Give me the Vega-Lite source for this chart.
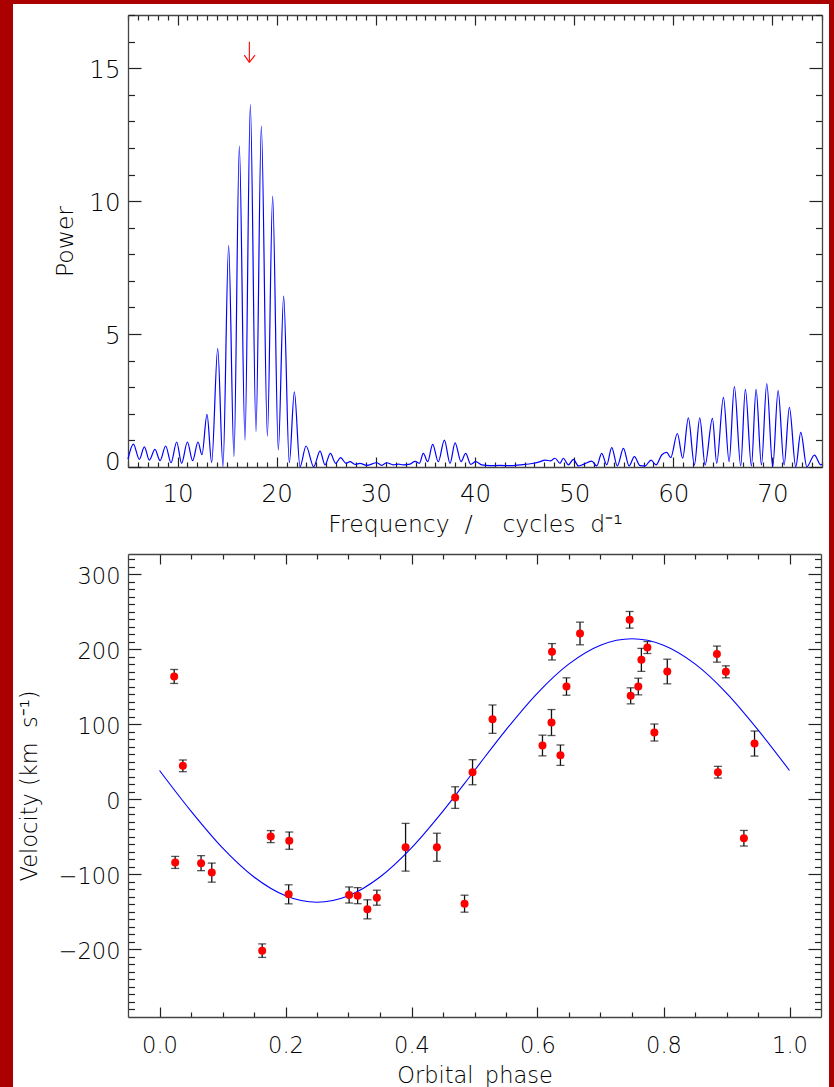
{
  "$schema": "https://vega.github.io/schema/vega-lite/v6.json",
  "background": "white",
  "padding": 0,
  "autosize": {"type": "pad"},
  "columns": 4,
  "spacing": {"row": 0, "column": 0},
  "bounds": "flush",
  "datasets": {
    "pgram": [
      {"f": 5.0, "P": 0.30}, {"f": 5.54, "P": 0.86}, {"f": 6.14, "P": 0.29}, {"f": 6.65, "P": 0.76},
      {"f": 7.15, "P": 0.26}, {"f": 7.72, "P": 0.66}, {"f": 8.23, "P": 0.24}, {"f": 8.80, "P": 0.79},
      {"f": 9.34, "P": 0.16}, {"f": 9.91, "P": 0.94}, {"f": 10.41, "P": 0.14}, {"f": 10.99, "P": 0.94},
      {"f": 11.52, "P": 0.24}, {"f": 12.06, "P": 0.94}, {"f": 12.46, "P": 0.46}, {"f": 12.97, "P": 1.98},
      {"f": 13.44, "P": 0.16}, {"f": 14.05, "P": 4.46}, {"f": 14.58, "P": 0.01}, {"f": 15.15, "P": 8.34},
      {"f": 15.69, "P": 0.39}, {"f": 16.23, "P": 12.07}, {"f": 16.80, "P": 1.01}, {"f": 17.34, "P": 13.63},
      {"f": 17.91, "P": 1.33}, {"f": 18.45, "P": 12.82}, {"f": 19.06, "P": 1.16}, {"f": 19.59, "P": 10.19},
      {"f": 20.16, "P": 0.64}, {"f": 20.70, "P": 6.43}, {"f": 21.27, "P": 0.16}, {"f": 21.78, "P": 2.83},
      {"f": 22.35, "P": 0.01}, {"f": 22.96, "P": 0.79}, {"f": 23.73, "P": 0.01}, {"f": 24.37, "P": 0.60},
      {"f": 24.87, "P": 0.08}, {"f": 25.41, "P": 0.51}, {"f": 25.95, "P": 0.14}, {"f": 26.45, "P": 0.35},
      {"f": 26.99, "P": 0.14}, {"f": 27.39, "P": 0.20}, {"f": 27.9, "P": 0.10}, {"f": 28.4, "P": 0.14},
      {"f": 29.07, "P": 0.06}, {"f": 30.08, "P": 0.16}, {"f": 30.59, "P": 0.06}, {"f": 31.09, "P": 0.16},
      {"f": 31.76, "P": 0.08}, {"f": 32.27, "P": 0.11}, {"f": 32.77, "P": 0.08}, {"f": 33.45, "P": 0.11},
      {"f": 33.95, "P": 0.21}, {"f": 34.39, "P": 0.14}, {"f": 34.79, "P": 0.51}, {"f": 35.23, "P": 0.20},
      {"f": 35.73, "P": 0.85}, {"f": 36.3, "P": 0.20}, {"f": 36.91, "P": 1.01}, {"f": 37.48, "P": 0.14},
      {"f": 37.99, "P": 0.91}, {"f": 38.59, "P": 0.20}, {"f": 39.06, "P": 0.51}, {"f": 39.57, "P": 0.10},
      {"f": 40.07, "P": 0.20}, {"f": 40.68, "P": 0.08}, {"f": 41.52, "P": 0.05}, {"f": 42.52, "P": 0.06},
      {"f": 43.53, "P": 0.05}, {"f": 44.54, "P": 0.08}, {"f": 45.9, "P": 0.14}, {"f": 46.49, "P": 0.19},
      {"f": 47.06, "P": 0.26}, {"f": 47.63, "P": 0.23}, {"f": 48.07, "P": 0.33}, {"f": 48.58, "P": 0.14},
      {"f": 48.9, "P": 0.33}, {"f": 49.42, "P": 0.08}, {"f": 49.92, "P": 0.29}, {"f": 50.43, "P": 0.04},
      {"f": 50.93, "P": 0.10}, {"f": 51.77, "P": 0.22}, {"f": 52.28, "P": 0.04}, {"f": 52.78, "P": 0.51},
      {"f": 53.29, "P": 0.08}, {"f": 53.79, "P": 0.73}, {"f": 54.36, "P": 0.04}, {"f": 54.97, "P": 0.70},
      {"f": 55.54, "P": 0.04}, {"f": 56.08, "P": 0.39}, {"f": 56.65, "P": 0.05}, {"f": 57.15, "P": 0.04},
      {"f": 57.76, "P": 0.26}, {"f": 58.26, "P": 0.08}, {"f": 58.83, "P": 0.45}, {"f": 59.34, "P": 0.55},
      {"f": 59.74, "P": 0.35}, {"f": 60.41, "P": 1.26}, {"f": 60.95, "P": 0.33}, {"f": 61.52, "P": 1.85},
      {"f": 62.13, "P": 0.08}, {"f": 62.67, "P": 1.85}, {"f": 63.21, "P": 0.08}, {"f": 63.95, "P": 1.83},
      {"f": 64.38, "P": 0.14}, {"f": 65.06, "P": 2.62}, {"f": 65.63, "P": 0.20}, {"f": 66.16, "P": 3.02},
      {"f": 66.8, "P": 0.04}, {"f": 67.27, "P": 2.92}, {"f": 67.88, "P": 0.04}, {"f": 68.35, "P": 2.92},
      {"f": 68.89, "P": 0.08}, {"f": 69.43, "P": 3.14}, {"f": 70.03, "P": 0.01}, {"f": 70.57, "P": 2.87},
      {"f": 71.18, "P": 0.08}, {"f": 71.71, "P": 2.24}, {"f": 72.35, "P": 0.01}, {"f": 72.86, "P": 1.30},
      {"f": 73.47, "P": 0.01}, {"f": 74.24, "P": 0.45}, {"f": 74.88, "P": 0.08}, {"f": 75.0, "P": 0.10}
    ],
    "arrow": [
      {"x1": 17.24, "y1": 15.99, "x2": 17.24, "y2": 15.22},
      {"x1": 16.73, "y1": 15.49, "x2": 17.24, "y2": 15.22},
      {"x1": 17.81, "y1": 15.49, "x2": 17.24, "y2": 15.22}
    ],
    "rv": [
      {"phase": 0.0233, "v": 163.8, "lo": 154.5, "hi": 173.1},
      {"phase": 0.0249, "v": -84, "lo": -92, "hi": -76},
      {"phase": 0.0371, "v": 44.7, "lo": 36.9, "hi": 52.5},
      {"phase": 0.066, "v": -85, "lo": -95, "hi": -75},
      {"phase": 0.083, "v": -97.6, "lo": -110.3, "hi": -84.9},
      {"phase": 0.163, "v": -201.6, "lo": -210.6, "hi": -192.6},
      {"phase": 0.1766, "v": -49.6, "lo": -57.6, "hi": -41.6},
      {"phase": 0.205, "v": -126.5, "lo": -139.2, "hi": -113.8},
      {"phase": 0.206, "v": -55, "lo": -66.5, "hi": -43.5},
      {"phase": 0.301, "v": -127.4, "lo": -138.1, "hi": -116.7},
      {"phase": 0.3145, "v": -128.3, "lo": -139, "hi": -117.6},
      {"phase": 0.33, "v": -146.5, "lo": -159.2, "hi": -133.8},
      {"phase": 0.345, "v": -131, "lo": -141, "hi": -121},
      {"phase": 0.3906, "v": -63.8, "lo": -95.6, "hi": -32},
      {"phase": 0.4403, "v": -63.8, "lo": -82.5, "hi": -45.1},
      {"phase": 0.4693, "v": 2.4, "lo": -12, "hi": 16.8},
      {"phase": 0.4842, "v": -139, "lo": -150.3, "hi": -127.7},
      {"phase": 0.4969, "v": 36.2, "lo": 19.5, "hi": 52.9},
      {"phase": 0.5286, "v": 106.9, "lo": 88, "hi": 125.8},
      {"phase": 0.6079, "v": 71.8, "lo": 58, "hi": 85.6},
      {"phase": 0.6222, "v": 102.4, "lo": 85.1, "hi": 119.7},
      {"phase": 0.623, "v": 196.7, "lo": 185.8, "hi": 207.6},
      {"phase": 0.6364, "v": 58.9, "lo": 45.3, "hi": 72.5},
      {"phase": 0.646, "v": 150.4, "lo": 138.8, "hi": 162},
      {"phase": 0.6675, "v": 221.1, "lo": 206, "hi": 236.2},
      {"phase": 0.7463, "v": 239.3, "lo": 228.2, "hi": 250.4},
      {"phase": 0.7479, "v": 138, "lo": 127.3, "hi": 148.7},
      {"phase": 0.76, "v": 150.4, "lo": 139.3, "hi": 161.5},
      {"phase": 0.7649, "v": 186, "lo": 170.7, "hi": 201.3},
      {"phase": 0.7744, "v": 202.4, "lo": 194.4, "hi": 210.4},
      {"phase": 0.7855, "v": 89.1, "lo": 77.8, "hi": 100.4},
      {"phase": 0.806, "v": 170.4, "lo": 154, "hi": 186.8},
      {"phase": 0.8848, "v": 193.6, "lo": 182.9, "hi": 204.3},
      {"phase": 0.8864, "v": 36.2, "lo": 28.4, "hi": 44},
      {"phase": 0.899, "v": 170, "lo": 162, "hi": 178},
      {"phase": 0.9276, "v": -51.8, "lo": -62.2, "hi": -41.4},
      {"phase": 0.9445, "v": 74.4, "lo": 57.7, "hi": 91.1}
    ],
    "fit": [
      {"phase": 0.0, "v": 38.5}, {"phase": 0.05, "v": -15.7}, {"phase": 0.1, "v": -64.7},
      {"phase": 0.15, "v": -103.5}, {"phase": 0.2, "v": -128.4}, {"phase": 0.25, "v": -137},
      {"phase": 0.3, "v": -128.4}, {"phase": 0.35, "v": -103.5}, {"phase": 0.4, "v": -64.7},
      {"phase": 0.45, "v": -15.7}, {"phase": 0.5, "v": 38.5}, {"phase": 0.55, "v": 92.7},
      {"phase": 0.6, "v": 141.7}, {"phase": 0.65, "v": 180.5}, {"phase": 0.7, "v": 205.4},
      {"phase": 0.75, "v": 214}, {"phase": 0.8, "v": 205.4}, {"phase": 0.85, "v": 180.5},
      {"phase": 0.9, "v": 141.7}, {"phase": 0.95, "v": 92.7}, {"phase": 1.0, "v": 38.5}
    ]
  },
  "concat": [
    {"width": 13, "height": 15, "data": {"values": []}, "mark": "point", "view": {"fill": "#AA0000", "stroke": null}},
    {"width": 115, "height": 4, "data": {"values": []}, "mark": "point", "view": {"fill": "#AA0000", "stroke": null}},
    {"width": 701, "height": 4, "data": {"values": []}, "mark": "point", "view": {"fill": "#AA0000", "stroke": null}},
    {"width": 5, "height": 15, "data": {"values": []}, "mark": "point", "view": {"fill": "#AA0000", "stroke": null}},

    {"width": 13, "height": 539, "data": {"values": []}, "mark": "point", "view": {"fill": "#AA0000", "stroke": null}},
    {"width": 115, "height": 1, "data": {"values": []}, "mark": "point", "view": {"stroke": null}},
    {
      "width": 694,
      "height": 452,
      "view": {"stroke": null},
      "layer": [
        {
          "data": {"name": "pgram"},
          "mark": {"type": "line", "color": "#0000FF", "strokeWidth": 1.2, "interpolate": "monotone"},
          "encoding": {
            "x": {
              "field": "f", "type": "quantitative",
              "scale": {"domain": [5, 75], "nice": false, "zero": false},
              "axis": {
                "orient": "bottom",
                "values": [5,6,7,8,9,10,11,12,13,14,15,16,17,18,19,20,21,22,23,24,25,26,27,28,29,30,31,32,33,34,35,36,37,38,39,40,41,42,43,44,45,46,47,48,49,50,51,52,53,54,55,56,57,58,59,60,61,62,63,64,65,66,67,68,69,70,71,72,73,74,75],
                "labelExpr": "datum.value % 10 === 0 ? datum.label : ''",
                "tickSize": {"condition": {"test": "datum.value % 10 === 0", "value": -10}, "value": -5},
                "labelPadding": 25,
                "labelFontSize": 24.5,
                "title": "Frequency\u00a0\u00a0/\u00a0\u00a0\u00a0\u00a0cycles\u00a0\u00a0d\u207b\u00b9",
                "titleFontSize": 23.5,
                "titleY": 64,
                "titleBaseline": "alphabetic"
              }
            },
            "y": {
              "field": "P", "type": "quantitative",
              "scale": {"domain": [0, 17], "nice": false, "zero": false},
              "axis": {
                "orient": "left",
                "values": [0,1,2,3,4,5,6,7,8,9,10,11,12,13,14,15,16,17],
                "labelExpr": "datum.value % 5 === 0 ? datum.label : ''",
                "tickSize": {"condition": {"test": "datum.value % 5 === 0", "value": -13}, "value": -6.5},
                "labelPadding": 21,
                "labelOffset": {"condition": {"test": "datum.value === 0", "value": -5}, "value": 2},
                "labelFontSize": 24.5,
                "title": "Power",
                "titleFontSize": 23.5,
                "titleX": -56,
                "titleBaseline": "alphabetic"
              }
            }
          }
        },
        {
          "data": {"name": "arrow"},
          "mark": {"type": "rule", "color": "#FF0000", "strokeWidth": 1.1},
          "encoding": {
            "x": {
              "field": "x1", "type": "quantitative",
              "scale": {"domain": [5, 75], "nice": false, "zero": false},
              "axis": {
                "orient": "top",
                "values": [5,6,7,8,9,10,11,12,13,14,15,16,17,18,19,20,21,22,23,24,25,26,27,28,29,30,31,32,33,34,35,36,37,38,39,40,41,42,43,44,45,46,47,48,49,50,51,52,53,54,55,56,57,58,59,60,61,62,63,64,65,66,67,68,69,70,71,72,73,74,75],
                "labels": false,
                "tickSize": {"condition": {"test": "datum.value % 10 === 0", "value": -10}, "value": -5},
                "title": null
              }
            },
            "x2": {"field": "x2"},
            "y": {
              "field": "y1", "type": "quantitative",
              "scale": {"domain": [0, 17], "nice": false, "zero": false},
              "axis": {
                "orient": "right",
                "values": [0,1,2,3,4,5,6,7,8,9,10,11,12,13,14,15,16,17],
                "labels": false,
                "tickSize": {"condition": {"test": "datum.value % 5 === 0", "value": -13}, "value": -6.5},
                "title": null
              }
            },
            "y2": {"field": "y2"}
          }
        }
      ],
      "resolve": {"axis": {"x": "independent", "y": "independent"}}
    },
    {"width": 5, "height": 539, "data": {"values": []}, "mark": "point", "view": {"fill": "#AA0000", "stroke": null}},

    {"width": 13, "height": 533, "data": {"values": []}, "mark": "point", "view": {"fill": "#AA0000", "stroke": null}},
    {"width": 115, "height": 1, "data": {"values": []}, "mark": "point", "view": {"stroke": null}},
    {
      "width": 693,
      "height": 463,
      "view": {"stroke": null},
      "layer": [
        {
          "data": {"name": "rv"},
          "mark": {"type": "errorbar", "ticks": true, "size": 8, "thickness": 1.3, "color": "#111111"},
          "encoding": {
            "x": {
              "field": "phase", "type": "quantitative",
              "scale": {"domain": [-0.05, 1.05], "nice": false, "zero": false},
              "axis": {
                "orient": "bottom",
                "values": [0,0.05,0.1,0.15,0.2,0.25,0.3,0.35,0.4,0.45,0.5,0.55,0.6,0.65,0.7,0.75,0.8,0.85,0.9,0.95,1.0],
                "labelExpr": "abs(round(datum.value*100)) % 20 == 0 ? format(datum.value, '.1f') : ''",
                "tickSize": {"condition": {"test": "abs(round(datum.value*100)) % 20 == 0", "value": -10}, "value": -5},
                "labelPadding": 27,
                "labelFontSize": 22.5,
                "title": "Orbital\u2002phase",
                "titleFontSize": 22.5,
                "titleY": 65,
                "titleBaseline": "alphabetic"
              }
            },
            "y": {
              "field": "lo", "type": "quantitative",
              "scale": {"domain": [-290, 327], "nice": false, "zero": false},
              "axis": {
                "orient": "left",
                "values": [-280,-270,-260,-250,-240,-230,-220,-210,-200,-190,-180,-170,-160,-150,-140,-130,-120,-110,-100,-90,-80,-70,-60,-50,-40,-30,-20,-10,0,10,20,30,40,50,60,70,80,90,100,110,120,130,140,150,160,170,180,190,200,210,220,230,240,250,260,270,280,290,300,310,320],
                "labelExpr": "datum.value % 100 === 0 ? datum.label : ''",
                "tickSize": {"condition": {"test": "datum.value % 100 === 0", "value": -13}, "value": -6.5},
                "labelPadding": 21,
                "labelOffset": 2,
                "labelFontSize": 22.5,
                "title": "Velocity\u00a0(km\u00a0\u00a0s\u207b\u00b9)",
                "titleFontSize": 22.5,
                "titleX": -92,
                "titleBaseline": "alphabetic"
              }
            },
            "y2": {"field": "hi"}
          }
        },
        {
          "data": {"name": "fit"},
          "mark": {"type": "line", "color": "#0000FF", "strokeWidth": 1.1, "interpolate": "monotone"},
          "encoding": {
            "x": {
              "field": "phase", "type": "quantitative",
              "scale": {"domain": [-0.05, 1.05], "nice": false, "zero": false},
              "axis": {
                "orient": "top",
                "values": [0,0.05,0.1,0.15,0.2,0.25,0.3,0.35,0.4,0.45,0.5,0.55,0.6,0.65,0.7,0.75,0.8,0.85,0.9,0.95,1.0],
                "labels": false,
                "tickSize": {"condition": {"test": "abs(round(datum.value*100)) % 20 == 0", "value": -10}, "value": -5},
                "title": null
              }
            },
            "y": {
              "field": "v", "type": "quantitative",
              "scale": {"domain": [-290, 327], "nice": false, "zero": false},
              "axis": {
                "orient": "right",
                "values": [-280,-270,-260,-250,-240,-230,-220,-210,-200,-190,-180,-170,-160,-150,-140,-130,-120,-110,-100,-90,-80,-70,-60,-50,-40,-30,-20,-10,0,10,20,30,40,50,60,70,80,90,100,110,120,130,140,150,160,170,180,190,200,210,220,230,240,250,260,270,280,290,300,310,320],
                "labels": false,
                "tickSize": {"condition": {"test": "datum.value % 100 === 0", "value": -13}, "value": -6.5},
                "title": null
              }
            }
          }
        },
        {
          "data": {"name": "rv"},
          "mark": {"type": "circle", "size": 64, "color": "#FF0000", "opacity": 1},
          "encoding": {
            "x": {"field": "phase", "type": "quantitative", "scale": {"domain": [-0.05, 1.05], "nice": false, "zero": false}, "axis": null},
            "y": {"field": "v", "type": "quantitative", "scale": {"domain": [-290, 327], "nice": false, "zero": false}, "axis": null}
          }
        }
      ],
      "resolve": {"axis": {"x": "independent", "y": "independent"}}
    },
    {"width": 5, "height": 533, "data": {"values": []}, "mark": "point", "view": {"fill": "#AA0000", "stroke": null}}
  ],
  "config": {
    "view": {"stroke": null},
    "axis": {
      "grid": false,
      "labelFont": "DejaVu Sans",
      "titleFont": "DejaVu Sans",
      "labelFontWeight": 200,
      "titleFontWeight": 200,
      "labelColor": "#000000",
      "titleColor": "#000000",
      "domainColor": "#444444",
      "domainWidth": 1.3,
      "tickColor": "#222222",
      "tickWidth": 1.2,
      "labelOverlap": false,
      "labelFlush": false,
      "labelBound": false
    }
  }
}
